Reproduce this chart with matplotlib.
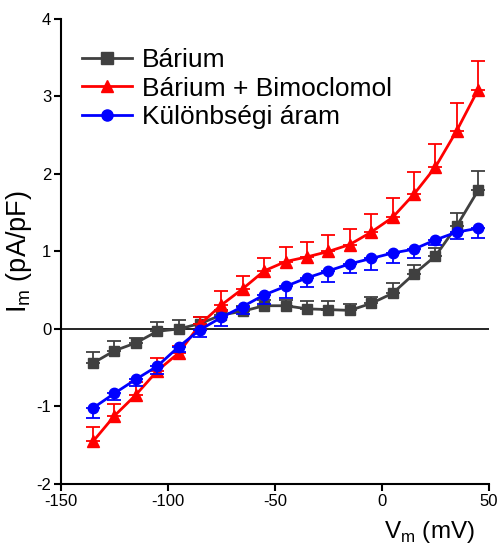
import matplotlib
matplotlib.use("Agg")
import matplotlib.pyplot as plt
from matplotlib.lines import Line2D
import numpy as np

plt.rcParams['font.family'] = ['Liberation Sans', 'DejaVu Sans']
plt.rcParams['axes.unicode_minus'] = False

vm = [-135, -125, -115, -105, -95, -85, -75, -65, -55, -45, -35, -25, -15, -5, 5, 15, 25, 35, 45]

barium = [-0.44, -0.28, -0.18, -0.03, 0.0, 0.07, 0.18, 0.23, 0.30, 0.30, 0.26, 0.25, 0.24, 0.33, 0.46, 0.71, 0.94, 1.33, 1.79]
barium_err = [0.14, 0.12, 0.07, 0.12, 0.12, 0.08, 0.07, 0.07, 0.07, 0.07, 0.10, 0.11, 0.08, 0.08, 0.13, 0.12, 0.10, 0.17, 0.25]

bimo = [-1.45, -1.12, -0.85, -0.54, -0.31, 0.06, 0.31, 0.52, 0.75, 0.87, 0.93, 1.00, 1.09, 1.25, 1.44, 1.74, 2.09, 2.56, 3.09]
bimo_err = [0.18, 0.15, 0.16, 0.16, 0.09, 0.10, 0.18, 0.17, 0.17, 0.19, 0.19, 0.21, 0.20, 0.23, 0.25, 0.28, 0.30, 0.35, 0.37]

diff = [-1.02, -0.83, -0.65, -0.48, -0.23, -0.01, 0.15, 0.29, 0.44, 0.55, 0.66, 0.75, 0.84, 0.91, 0.98, 1.03, 1.15, 1.25, 1.30]
diff_err = [0.13, 0.09, 0.09, 0.10, 0.07, 0.09, 0.11, 0.10, 0.12, 0.15, 0.12, 0.15, 0.12, 0.15, 0.13, 0.12, 0.07, 0.09, 0.12]

labels = ['Bárium', 'Bárium + Bimoclomol', 'Különbségi áram']
colors = ['#404040', '#ff0000', '#0000ff']
markers = ['s', '^', 'o']

fig = plt.figure(figsize=(5.04, 5.54), dpi=100)
ax = fig.add_axes([0.121, 0.1264, 0.849, 0.8393])

ax.axhline(0, color='black', lw=1.2, zorder=1)

z = np.zeros(len(vm))
ax.errorbar(vm, barium, yerr=[z, barium_err], color=colors[0], marker=markers[0], ms=7.5,
            lw=2, capsize=5, elinewidth=1.3, capthick=1.3, zorder=3)
ax.errorbar(vm, bimo, yerr=[z, bimo_err], color=colors[1], marker=markers[1], ms=8.5,
            lw=2, capsize=5, elinewidth=1.3, capthick=1.3, zorder=4)
ax.errorbar(vm, diff, yerr=[diff_err, z], color=colors[2], marker=markers[2], ms=7.5,
            lw=2, capsize=5, elinewidth=1.3, capthick=1.3, zorder=5)

ax.set_xlim(-150, 50)
ax.set_ylim(-2, 4)
ax.set_xticks([-150, -100, -50, 0, 50])
ax.set_yticks([-2, -1, 0, 1, 2, 3, 4])
ax.spines['top'].set_visible(False)
ax.spines['right'].set_visible(False)
ax.spines['left'].set_linewidth(1.5)
ax.spines['bottom'].set_linewidth(1.5)
ax.tick_params(axis='both', labelsize=12, width=1.5, length=5, direction='out', pad=2)

ax.set_ylabel('I$_\\mathregular{m}$ (pA/pF)', fontsize=19.5, labelpad=2)
ax.set_xlabel('V$_\\mathregular{m}$ (mV)', fontsize=17.5, labelpad=2)
ax.xaxis.set_label_coords(0.86, -0.075)

handles = [Line2D([], [], color=c, marker=m, ms=8, lw=2) for c, m in zip(colors, markers)]
leg = ax.legend(handles, labels, loc='upper left', bbox_to_anchor=(0.025, 0.96), frameon=False,
                fontsize=19, handlelength=1.9, handletextpad=0.35, labelspacing=0.17,
                borderaxespad=0)

fig.savefig('out.png', dpi=100)
